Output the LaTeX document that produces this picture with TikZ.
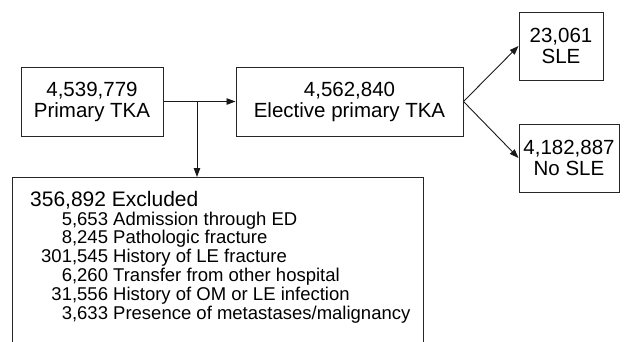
\documentclass[tikz,border=0pt]{standalone}
\usepackage{fontspec}
\setmainfont{Liberation Sans}
\usetikzlibrary{arrows.meta}

\tikzset{
  cbox/.style={draw=black!85, line width=1pt, inner sep=0pt, align=center,
    font=\fontsize{20.5}{21}\selectfont},
  arr/.style={line width=0.9pt, draw=black!90, -{Triangle[length=9pt, width=6.5pt]}},
}

\begin{document}
\begin{tikzpicture}[x=1pt, y=-1pt]
\useasboundingbox (0,0) rectangle (634,341);
% boxes
\node[cbox, minimum width=142pt, minimum height=69pt] (prim)  at (92,101.5)  {4,539,779\\Primary TKA};
\node[cbox, minimum width=227pt, minimum height=69pt] (elec)  at (349.5,101.5) {4,562,840\\Elective primary TKA};
\node[cbox, minimum width=84pt,  minimum height=68pt] (sle)   at (561,46)    {23,061\\SLE};
\node[cbox, minimum width=100pt, minimum height=68pt] (nosle) at (569,158)   {4,182,887\\No SLE};
\node[draw=black!85, line width=1pt, inner sep=0pt, anchor=north west,
      minimum width=411pt, minimum height=190pt] (excl) at (12,177) {};
% excluded list
\node[anchor=base west, inner sep=0pt, font=\fontsize{21}{21}\selectfont] (extitle) at (30,206) {356,892 Excluded};
\node[anchor=base west, inner sep=0pt, font=\fontsize{18.5}{18.5}\selectfont] (exlist) at (41,225) {%
  \begin{tabular}[t]{@{}r@{ }l@{}}
    5,653 & Admission through ED\\
    8,245 & Pathologic fracture\\
    301,545 & History of LE fracture\\
    6,260 & Transfer from other hospital\\
    31,556 & History of OM or LE infection\\
    3,633 & Presence of metastases/malignancy
  \end{tabular}};
% connectors
\coordinate (split) at (197,101.5);
\draw[arr] (prim.east) -- (elec.west);
\draw[arr] (split) -- (split |- excl.north);
\draw[arr] (elec.east) -- (sle.west);
\draw[arr] (elec.east) -- (nosle.west);
\end{tikzpicture}
\end{document}
